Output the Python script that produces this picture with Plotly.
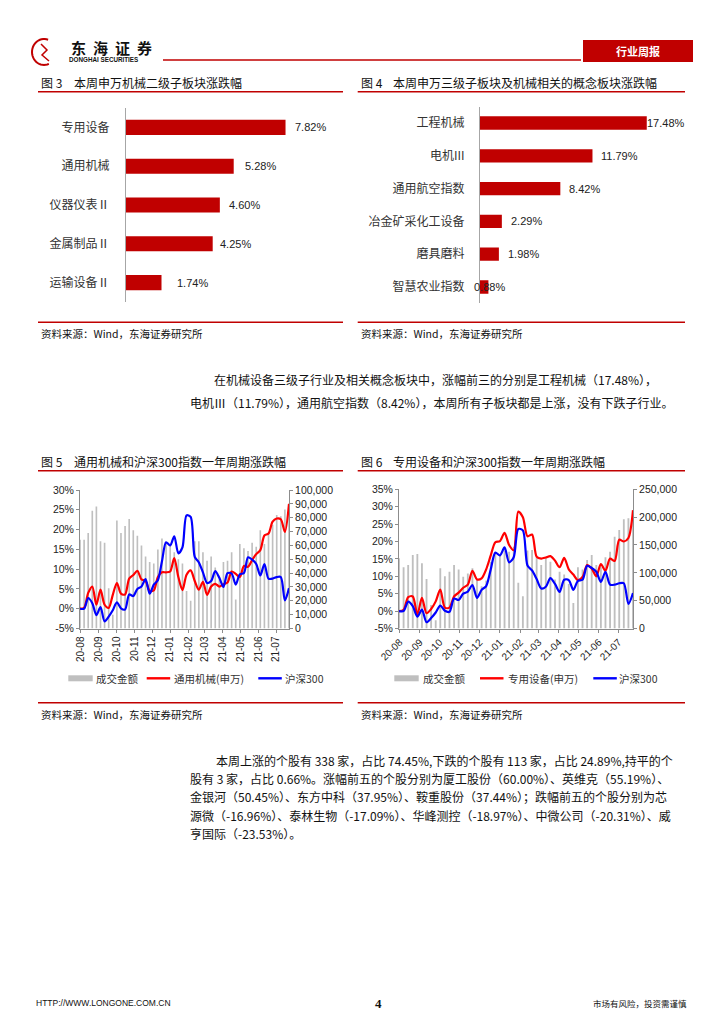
import plotly.graph_objects as go
import pandas as pd
import math

W, H = 724, 1024
CJK = "Noto Sans CJK SC, Liberation Sans, sans-serif"
NUM = "Liberation Sans, Noto Sans CJK SC, sans-serif"
RED = "#C00000"
AX = "#8c8c8c"

# ---------------- data ----------------
f3_cats = ["专用设备", "通用机械", "仪器仪表Ⅱ", "金属制品Ⅱ", "运输设备Ⅱ"]
f3_vals = [7.82, 5.28, 4.60, 4.25, 1.74]

f4_cats = ["工程机械", "电机III", "通用航空指数", "冶金矿采化工设备", "磨具磨料", "智慧农业指数"]
f4_vals = [17.48, 11.79, 8.42, 2.29, 1.98, 0.88]

weeks = pd.date_range("2020-07-31", periods=52, freq="7D")

hs300 = [0, 0, 2.7, 1.4, -1.6, 0.4, -3.2, -2.0, -0.4, 1.6, 0.1, -0.2, 3.6, 3.2, 5.0, 5.6,
         7.5, 3.8, 6.1, 7.2, 12.0, 16.8, 16.0, 18.3, 14.0, 15.5, 23.6, 23.2, 13.1, 11.7,
         9.2, 6.5, 7.0, 9.5, 7.8, 5.5, 9.0, 8.9, 6.1, 8.7, 9.0, 13.0, 12.4, 11.3, 8.4,
         11.3, 7.6, 7.6, 8.0, 8.0, 2.1, 5.2]

f5_general = [0, 0.2, 4.0, 5.6, 1.0, 4.8, 1.0, 0.2, 3.5, 6.5, 3.8, 3.6, 7.6, 8.5, 9.6, 7.4,
              7.0, 4.5, 4.6, 8.0, 9.2, 9.2, 9.4, 12.8, 8.0, 4.7, 8.6, 9.7, 7.0, 4.8,
              6.8, 3.5, 5.6, 6.3, 5.6, 6.2, 6.6, 9.4, 8.8, 8.0, 10.8, 10.6, 12.3, 13.8,
              14.8, 18.5, 19.0, 22.0, 22.8, 22.6, 19.4, 26.5]
f5_turnover = [64000, 64000, 69000, 85000, 88000, 63000, 62000, 29000, 10000, 78000, 69000,
               74000, 79000, 71000, 67000, 60000, 52000, 48000, 47000, 57000, 65000, 62000,
               60000, 55000, 50000, 47000, 27000, 20000, 63000, 63000, 55000, 49000, 52000,
               44000, 38000, 48000, 49000, 55000, 21000, 61000, 58000, 56000, 62000, 59000,
               71000, 61000, 69000, 75000, 82000, 81000, 86000, 89000]

f6_special = [0, 0.4, 4.0, 4.2, -1.0, 3.8, -0.6, 0.6, 2.8, 6.2, 1.0, 1.0, 4.2, 5.3, 6.7, 7.6,
              11.6, 9.1, 9.4, 12.0, 16.0, 19.8, 20.1, 22.5, 19.0, 17.5, 28.6, 27.0, 21.5,
              22.0, 15.6, 15.1, 15.4, 15.8, 14.5, 12.6, 15.3, 12.0, 10.5, 8.9, 9.8, 13.2,
              12.2, 10.0, 13.5, 11.6, 15.1, 14.4, 20.5, 20.0, 21.0, 29.0]
f6_turnover = [126000, 110000, 114000, 132000, 134000, 117000, 89000, 42000, 15000, 108000,
               94000, 102000, 114000, 106000, 93000, 99000, 108000, 87000, 76000, 86000,
               120000, 135000, 130000, 140000, 138000, 147000, 82000, 58000, 140000, 141000,
               127000, 114000, 126000, 120000, 88000, 102000, 97000, 80000, 46000, 110000,
               106000, 123000, 132000, 114000, 110000, 128000, 138000, 165000, 177000,
               196000, 198000, 200000]

pct5_ticks = [-5, 0, 5, 10, 15, 20, 25, 30]
pct6_ticks = [-5, 0, 5, 10, 15, 20, 25, 30, 35]


def px(x):
    return x / W


def py(y):
    return 1 - y / H


fig = go.Figure()

# ---------------- Fig 3 ----------------
fig.add_trace(go.Bar(x=f3_vals, y=f3_cats, orientation="h", width=0.39,
                     marker=dict(color=RED, line=dict(width=0)),
                     xaxis="x", yaxis="y", showlegend=False, hoverinfo="skip"))
# ---------------- Fig 4 ----------------
fig.add_trace(go.Bar(x=f4_vals, y=f4_cats, orientation="h", width=0.41,
                     marker=dict(color=RED, line=dict(width=0)),
                     xaxis="x2", yaxis="y2", showlegend=False, hoverinfo="skip"))
# ---------------- Fig 5 ----------------
DAY = 86400000
fig.add_trace(go.Bar(x=weeks, y=f5_turnover, width=2.8 * DAY, marker=dict(color="#bfbfbf", line=dict(width=0)),
                     xaxis="x3", yaxis="y3", showlegend=False, hoverinfo="skip"))
fig.add_trace(go.Scatter(x=weeks, y=f5_general, mode="lines",
                         line=dict(color="#ff0000", width=2.2, shape="spline", smoothing=0.8),
                         xaxis="x3", yaxis="y4", showlegend=False, hoverinfo="skip"))
fig.add_trace(go.Scatter(x=weeks, y=hs300, mode="lines",
                         line=dict(color="#0000ff", width=2.2, shape="spline", smoothing=0.8),
                         xaxis="x3", yaxis="y4", showlegend=False, hoverinfo="skip"))
# ---------------- Fig 6 ----------------
fig.add_trace(go.Bar(x=weeks, y=f6_turnover, width=2.8 * DAY, marker=dict(color="#bfbfbf", line=dict(width=0)),
                     xaxis="x4", yaxis="y5", showlegend=False, hoverinfo="skip"))
fig.add_trace(go.Scatter(x=weeks, y=f6_special, mode="lines",
                         line=dict(color="#ff0000", width=2.2, shape="spline", smoothing=0.8),
                         xaxis="x4", yaxis="y6", showlegend=False, hoverinfo="skip"))
fig.add_trace(go.Scatter(x=weeks, y=hs300, mode="lines",
                         line=dict(color="#0000ff", width=2.2, shape="spline", smoothing=0.8),
                         xaxis="x4", yaxis="y6", showlegend=False, hoverinfo="skip"))

tickfont = dict(size=10.5, family=NUM, color="#222")
date_range = ["2020-07-31", "2021-07-23"]
common = dict(automargin=False, showgrid=False, zeroline=False)

fig.update_layout(
    template="none",
    width=W, height=H, margin=dict(l=0, r=0, t=0, b=0, pad=0, autoexpand=False),
    paper_bgcolor="white", plot_bgcolor="rgba(0,0,0,0)",
    font=dict(family=CJK, color="#222"),
    xaxis=dict(domain=[px(126), px(330)], range=[0, 10], visible=False, anchor="y", **common),
    yaxis=dict(domain=[py(302), py(108)], anchor="x", type="category", categoryorder="array",
               categoryarray=f3_cats, autorange="reversed", showline=True, linecolor="#a6a6a6",
               linewidth=1, ticks="", tickfont=dict(size=12, family=CJK, color="#333"),
               ticklabelstandoff=13, **common),
    xaxis2=dict(domain=[px(480), px(670.8)], range=[0, 20], visible=False, anchor="y2", **common),
    yaxis2=dict(domain=[py(303.3), py(106.7)], anchor="x2", type="category", categoryorder="array",
                categoryarray=f4_cats, autorange="reversed", showline=True, linecolor="#a6a6a6",
                linewidth=1, ticks="", tickfont=dict(size=12, family=CJK, color="#333"),
                ticklabelstandoff=12, **common),
    xaxis3=dict(domain=[px(80), px(289)], anchor="y3", type="date", range=date_range,
                tickformat="%y-%m", dtick="M1", tick0="2020-08-01", tickangle=-90,
                ticks="outside", ticklen=3, tickcolor=AX, showline=True, linecolor=AX,
                tickfont=dict(size=10, family=NUM, color="#222"), **common),
    yaxis3=dict(domain=[py(628.5), py(490)], anchor="x3", side="right", range=[0, 100000],
                dtick=10000, tickformat=",d", showline=True, linecolor=AX, ticks="outside",
                ticklen=3, tickcolor=AX, tickfont=tickfont, **common),
    yaxis4=dict(overlaying="y3", anchor="x3", side="left", range=[-5, 30],
                tickvals=pct5_ticks, ticktext=[f"{v}%" for v in pct5_ticks],
                showline=True, linecolor=AX, ticks="outside", ticklen=3, tickcolor=AX,
                tickfont=tickfont, **common),
    xaxis4=dict(domain=[px(399), px(633)], anchor="y5", type="date", range=date_range,
                tickformat="%y-%m", dtick="M1", tick0="2020-08-01", tickangle=-45,
                ticks="outside", ticklen=3, tickcolor=AX, showline=True, linecolor=AX,
                tickfont=dict(size=10, family=NUM, color="#222"), **common),
    yaxis5=dict(domain=[py(628.5), py(489.3)], anchor="x4", side="right", range=[0, 250000],
                dtick=50000, tickformat=",d", showline=True, linecolor=AX, ticks="outside",
                ticklen=3, tickcolor=AX, tickfont=tickfont, **common),
    yaxis6=dict(overlaying="y5", anchor="x4", side="left", range=[-5, 35],
                tickvals=pct6_ticks, ticktext=[f"{v}%" for v in pct6_ticks],
                showline=True, linecolor=AX, ticks="outside", ticklen=3, tickcolor=AX,
                tickfont=tickfont, **common),
)

# value labels for fig3/fig4
f3_shift = [7, 9, 7, 5, 13]
for v, c, s in zip(f3_vals, f3_cats, f3_shift):
    fig.add_annotation(x=v, y=c, xref="x", yref="y", text=f"{v:.2f}%", showarrow=False,
                       xanchor="left", xshift=s, font=dict(size=11, family=NUM, color="#222"))
f4_shift = [-2, 7, 7, 7, 7, -16]
for v, c, s in zip(f4_vals, f4_cats, f4_shift):
    fig.add_annotation(x=v, y=c, xref="x2", yref="y2", text=f"{v:.2f}%", showarrow=False,
                       xanchor="left", xshift=s, font=dict(size=11, family=NUM, color="#222"))


def text(x, y, s, size, color="#111", anchor="left", family=CJK):
    fig.add_annotation(x=px(x), y=py(y), xref="paper", yref="paper", text=s, showarrow=False,
                       xanchor=anchor, yanchor="middle", font=dict(size=size, color=color, family=family),
                       borderpad=0)


def hline(x0, x1, y, color=RED, width=1.6):
    fig.add_shape(type="line", xref="paper", yref="paper", x0=px(x0), x1=px(x1), y0=py(y), y1=py(y),
                  line=dict(color=color, width=width))


def rect(x0, x1, y0, y1, color):
    fig.add_shape(type="rect", xref="paper", yref="paper", x0=px(x0), x1=px(x1), y0=py(y1), y1=py(y0),
                  fillcolor=color, line=dict(width=0))


# ---------------- header ----------------
pts = []
for k in range(0, 29):
    a = math.radians(70 + k * 8)
    pts.append((44 + 12 * math.cos(a), 52 - 13 * math.sin(a)))
path = "M " + " L ".join(f"{px(a):.5f},{py(b):.5f}" for a, b in pts)
fig.add_shape(type="path", xref="paper", yref="paper", path=path, line=dict(color=RED, width=2))
path2 = "M {:.5f},{:.5f} L {:.5f},{:.5f} L {:.5f},{:.5f} L {:.5f},{:.5f}".format(
    px(41), py(44), px(47), py(50), px(42), py(55), px(49), py(61))
fig.add_shape(type="path", xref="paper", yref="paper", path=path2, line=dict(color=RED, width=1.5))
for k, ch in enumerate("东海证券"):
    text(78 + 22 * k, 47, f"<b>{ch}</b>", 15, "#111", "center")
text(68, 59.5, "<b>DONGHAI SECURITIES</b>", 6.3, "#111", "left", NUM)
hline(163, 581, 60, RED, 1.4)
rect(583, 693, 40, 62, RED)
text(638, 51, "<b>行业周报</b>", 11, "white", "center")

# ---------------- figure titles / sources ----------------
for (x0, x1, num, title) in [(38, 343, "图 3", "本周申万机械二级子板块涨跌幅"),
                             (357.7, 685, "图 4", "本周申万三级子板块及机械相关的概念板块涨跌幅")]:
    text(x0 + 2, 82, num, 12)
    text(x0 + 34.5, 82, title, 12)
    hline(x0, x1, 91.8)
    hline(x0, x1, 322.3)
    text(x0 + 2, 333.5, "资料来源：Wind，东海证券研究所", 10.5)

for (x0, x1, num, title) in [(38, 343, "图 5", "通用机械和沪深300指数一年周期涨跌幅"),
                             (357.7, 685, "图 6", "专用设备和沪深300指数一年周期涨跌幅")]:
    text(x0 + 2, 461.5, num, 12)
    text(x0 + 34.5, 461.5, title, 12)
    hline(x0, x1, 470.7)
    hline(x0, x1, 702.7)
    text(x0 + 2, 714.5, "资料来源：Wind，东海证券研究所", 10.5)

# ---------------- legends for fig5 / fig6 ----------------
for (rx, lx1, lx2, t1, t2, t3, series) in [
        (68.3, 146.7, 258.3, 95, 172.7, 284, "通用机械(申万)"),
        (394.3, 480, 593.3, 421.7, 506.7, 618.3, "专用设备(申万)")]:
    rect(rx, rx + 24.4, 675.3, 681.3, "#bfbfbf")
    hline(lx1, lx1 + 23.5, 678.3, "#ff0000", 2.4)
    hline(lx2, lx2 + 23.5, 678.3, "#0000ff", 2.4)
    text(t1, 678.5, "成交金额", 10.5, "#333")
    text(t2, 678.5, series, 10.5, "#333")
    text(t3, 678.5, "沪深300", 10.5, "#333")

# ---------------- body text ----------------
p1 = ["在机械设备三级子行业及相关概念板块中，涨幅前三的分别是工程机械（17.48%），",
      "电机Ⅲ（11.79%），通用航空指数（8.42%），本周所有子板块都是上涨，没有下跌子行业。"]
text(213, 379.5, p1[0], 12, "#111")
text(189, 402.5, p1[1], 12, "#111")

p2 = ["本周上涨的个股有 338 家，占比 74.45%,下跌的个股有 113 家，占比 24.89%,持平的个",
      "股有 3 家，占比 0.66%。涨幅前五的个股分别为厦工股份（60.00%）、英维克（55.19%）、",
      "金银河（50.45%）、东方中科（37.95%）、鞍重股份（37.44%）；跌幅前五的个股分别为芯",
      "源微（-16.96%）、泰林生物（-17.09%）、华峰测控（-18.97%）、中微公司（-20.31%）、威",
      "亨国际（-23.53%）。"]
ys = [760, 778.3, 796.7, 815, 833.3]
for i, (line, yy) in enumerate(zip(p2, ys)):
    text(215 if i == 0 else 189, yy, line, 12, "#111")

# ---------------- footer ----------------
text(35, 1003, "HTTP://WWW.LONGONE.COM.CN", 8.5, "#111", "left", NUM)
text(378, 1003, "<b>4</b>", 13, "#111", "center", "Liberation Serif, serif")
text(688, 1003, "市场有风险，投资需谨慎", 8.5, "#111", "right")

fig.write_html("out.html", config={"displayModeBar": False, "staticPlot": True},
               post_script="document.body.style.margin='0';document.body.style.overflow='hidden';")
